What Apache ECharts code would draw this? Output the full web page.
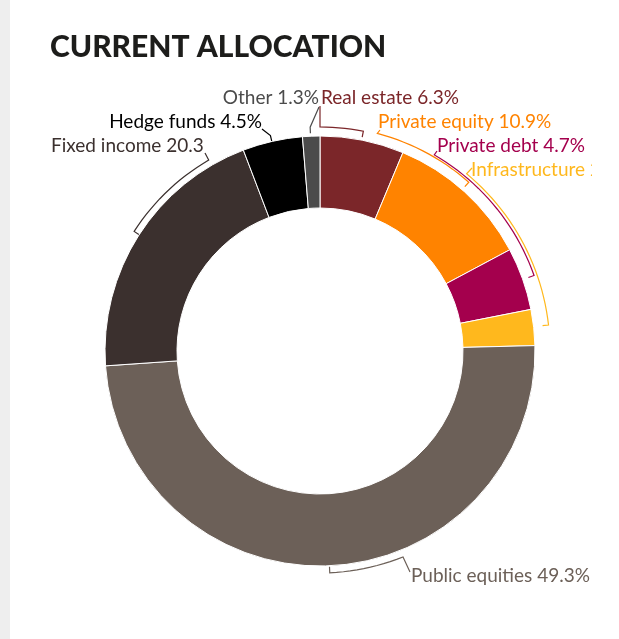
<!DOCTYPE html>
<html>
<head>
<meta charset="utf-8">
<script src="https://cdn.jsdelivr.net/npm/echarts@6/dist/echarts.min.js"></script>
<style>
html,body{margin:0;padding:0;background:#fff;}
#bar{position:absolute;left:0;top:0;width:10px;height:639px;background:#eeeeee;}
#main{position:absolute;left:0;top:0;width:592px;height:639px;}
</style>
</head>
<body>
<div id="bar"></div>
<div id="main"></div>
<script>
var names = ['Real estate', 'Private equity', 'Private debt', 'Infrastructure', 'Public equities', 'Fixed income', 'Hedge funds', 'Other'];
var shares = [6.3, 10.9, 4.7, 2.7, 49.3, 20.3, 4.5, 1.3];
var colours = ['#7b2629', '#ff8300', '#a4004d', '#ffb81d', '#6c6058', '#3b302e', '#000000', '#4b4b4b'];

// callouts: bracket span on the angle axis (0-100), bracket radius (px),
// which end the leader leaves from, leader anchor and label position
var callouts = [
  {from: 0,    to: 3.1,  r: 224, lead: 'from', ax: 320, ay: 106, lx: 321, ly: 98,  align: 'left'},
  {from: 4.1,  to: 11.5, r: 225, lead: 'from', ax: 380, ay: 130, lx: 378, ly: 122, align: 'left'},
  {from: 8.4,  to: 19.6, r: 227, lead: 'from', ax: 437, ay: 151, lx: 437, ly: 146, align: 'left'},
  {from: 11.0, to: 23.2, r: 230, lead: 'from', ax: 472, ay: 168, lx: 471, ly: 170, align: 'left'},
  {from: 43.9, to: 49.3, r: 222, lead: 'from', ax: 410, ay: 572, lx: 411, ly: 576, align: 'left'},
  {from: 84.1, to: 91.6, r: 221, lead: 'to',   ax: 205, ay: 153, lx: 51,  ly: 146, align: 'left', w: 163},
  {from: 96.4, to: 96.4, r: 221, lead: 'from', ax: 262, ay: 129, lx: 262, ly: 122, align: 'right'},
  {from: 99.3, to: 99.3, r: 224, lead: 'from', ax: 319, ay: 107, lx: 319, ly: 98,  align: 'right'}
];

function renderCallout(params, api) {
  var i = params.dataIndex;
  var c = callouts[i];
  var a0 = c.lead == 'from' ? c.from : c.to;
  var a1 = c.lead == 'from' ? c.to : c.from;
  var pts = [[c.ax, c.ay]];
  var steps = Math.max(1, Math.ceil(Math.abs(a1 - a0) * 2));
  for (var k = 0; k <= steps; k++) {
    pts.push(api.coord([c.r, a0 + (a1 - a0) * k / steps]));
  }
  pts.push(api.coord([c.r - 6, a1]));
  var txt = {
    text: names[i] + ' ' + shares[i] + '%',
    fill: colours[i],
    fontSize: 19,
    fontFamily: 'Lato',
    align: c.align,
    verticalAlign: 'middle'
  };
  if (c.w) {
    txt.width = c.w;
    txt.overflow = 'truncate';
    txt.ellipsis = '';
  }
  return {
    type: 'group',
    children: [
      {type: 'polyline', shape: {points: pts}, style: {stroke: colours[i], lineWidth: 1.2, fill: null}},
      {type: 'text', x: c.lx, y: c.ly, style: txt}
    ]
  };
}

var chart = echarts.init(document.getElementById('main'));
var option = {
  animation: false,
  title: {
    text: 'CURRENT ALLOCATION',
    left: 50,
    top: 32,
    padding: 0,
    textStyle: {fontFamily: 'Lato', fontWeight: 900, fontSize: 30, color: '#1d1d1b'}
  },
  polar: {center: [320, 351], radius: [0, 215]},
  angleAxis: {type: 'value', min: 0, max: 100, startAngle: 90, clockwise: true, show: false},
  radiusAxis: {type: 'value', min: 0, max: 215, show: false},
  series: [{
    type: 'pie',
    center: [320, 351],
    radius: [143, 215],
    startAngle: 90,
    clockwise: true,
    silent: true,
    label: {show: false},
    labelLine: {show: false},
    itemStyle: {borderColor: '#fff', borderWidth: 1},
    data: names.map(function (n, i) {
      return {name: n, value: shares[i], itemStyle: {color: colours[i]}};
    })
  }, {
    type: 'custom',
    coordinateSystem: 'polar',
    clip: false,
    silent: true,
    renderItem: renderCallout,
    data: callouts.map(function (c) { return [c.r, c.from]; })
  }]
};
chart.setOption(option);
</script>
</body>
</html>
